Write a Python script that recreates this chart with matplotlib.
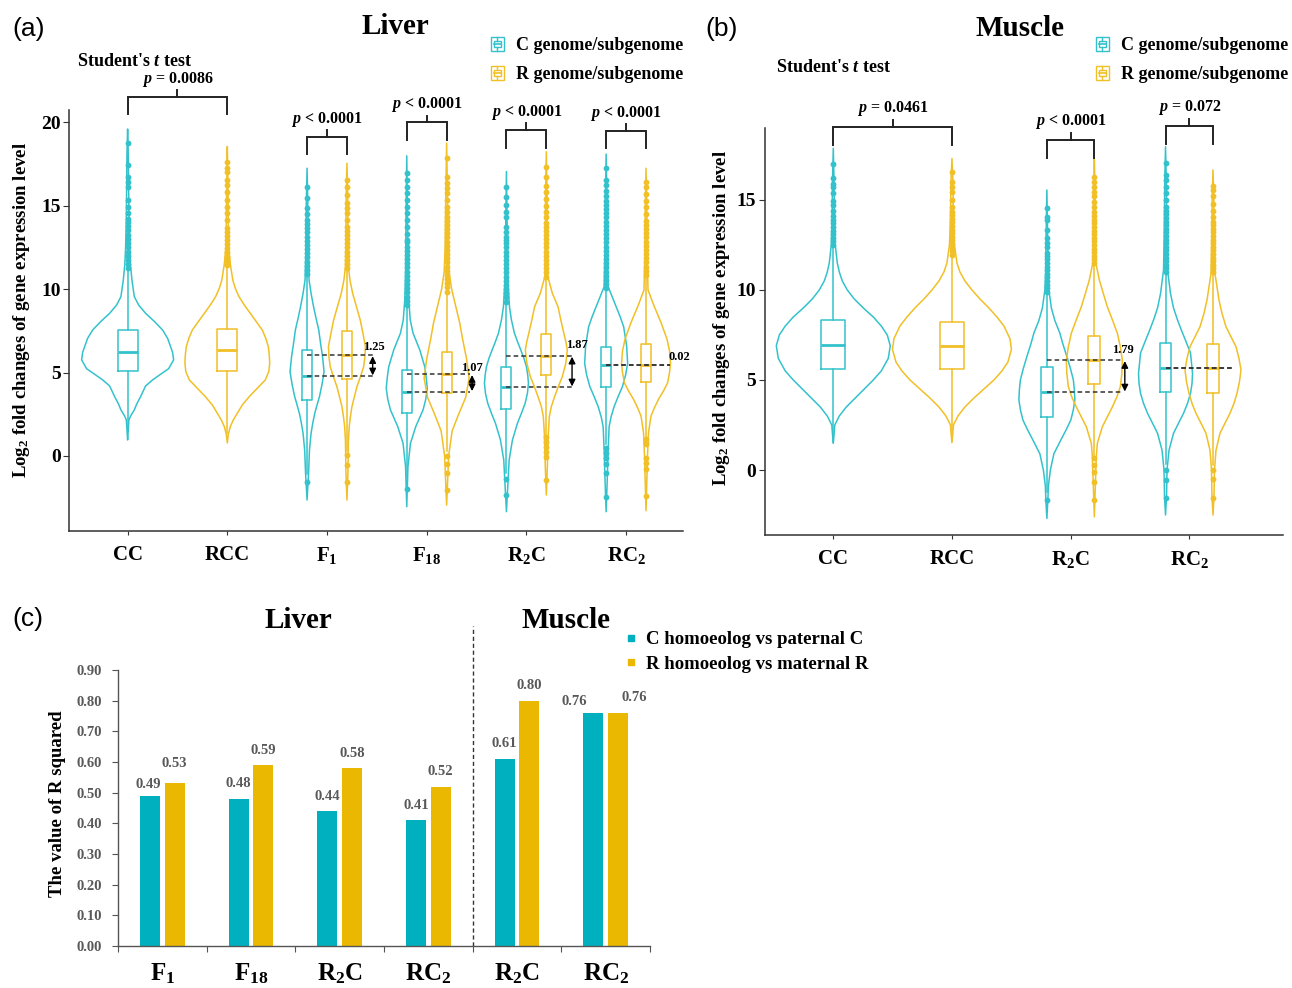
import numpy as np
import matplotlib
matplotlib.use('Agg')
import matplotlib.pyplot as plt
from matplotlib.patches import Rectangle, Patch
from matplotlib.lines import Line2D
from matplotlib.legend_handler import HandlerBase

plt.rcParams['font.family'] = 'Liberation Serif'
plt.rcParams['font.weight'] = 'bold'
plt.rcParams['mathtext.fontset'] = 'custom'
plt.rcParams['mathtext.rm'] = 'Liberation Serif:bold'
plt.rcParams['mathtext.bf'] = 'Liberation Serif:bold'
plt.rcParams['mathtext.it'] = 'Liberation Serif:italic'
plt.rcParams['mathtext.bfit'] = 'Liberation Serif:italic:bold'

# ------------------------------------------------------------------ data
# Panel (a) Liver -------------------------------------------------------
liver_groups = ['CC', 'RCC', r'$\mathbf{F_1}$', r'$\mathbf{F_{18}}$', r'$\mathbf{R_2C}$', r'$\mathbf{RC_2}$']
liver_v_group = [0, 1, 2, 2, 3, 3, 4, 4, 5, 5]
liver_v_genome = ['C', 'R', 'C', 'R', 'C', 'R', 'C', 'R', 'C', 'R']
liver_dens_y = [
    [0.96, 1.6, 2.16, 2.4, 2.76, 3.1, 3.56, 4.2, 4.56, 4.9, 5.23, 5.76, 6.2, 6.55, 7.05, 7.55, 8.05, 8.55, 9.05, 9.55, 10.55, 11.5, 12.5, 14.0, 16.0, 18.0, 19.6],
    [0.78, 1.3, 1.76, 2.16, 2.56, 3.06, 3.56, 4.06, 4.56, 5.06, 5.56, 6.05, 6.55, 7.05, 7.55, 8.05, 8.55, 9.05, 9.55, 10.05, 10.55, 11.5, 12.5, 14.0, 16.0, 18.55],
    [-2.64, -1.04, 0.36, 1.36, 2.0, 2.56, 3.06, 3.56, 4.3, 5.05, 5.95, 6.75, 7.55, 8.25, 8.95, 9.75, 10.55, 12.5, 15.0, 17.25],
    [-2.64, -1.0, 0.96, 1.76, 2.36, 2.96, 3.56, 4.15, 4.75, 5.35, 5.95, 6.55, 7.35, 8.15, 8.95, 9.75, 10.55, 11.35, 13.5, 15.5, 17.55],
    [-3.04, -0.64, 0.76, 1.76, 2.76, 3.4, 4.06, 4.7, 5.35, 6.36, 7.36, 8.15, 9.35, 11.0, 14.0, 17.99],
    [-2.94, -1.5, 0.0, 1.5, 2.5, 3.5, 4.66, 5.8, 7.0, 8.0, 9.0, 10.0, 11.0, 12.5, 15.0, 18.75],
    [-3.34, -1.64, -0.24, 0.96, 1.96, 2.56, 3.16, 3.76, 4.36, 4.85, 5.35, 5.85, 6.36, 6.86, 7.36, 8.15, 8.95, 10.55, 12.55, 17.05],
    [-2.34, -0.7, 1.36, 2.36, 2.96, 3.56, 4.16, 4.76, 5.56, 6.36, 6.86, 7.36, 8.15, 8.95, 9.75, 10.75, 13.0, 15.5, 18.24],
    [-3.34, -1.64, 0.36, 1.76, 2.36, 2.96, 3.56, 4.16, 4.86, 5.55, 6.6, 7.75, 8.35, 8.95, 9.55, 10.15, 12.5, 15.0, 18.1],
    [-3.28, 0.0, 1.4, 2.4, 2.9, 3.4, 3.9, 4.4, 5.0, 5.55, 6.3, 7.0, 8.0, 9.0, 9.95, 12.0, 14.5, 17.25],
]
liver_dens_w = [
    [0, 0.7, 1.3, 3, 6.7, 9, 13, 18, 25, 33, 41, 46, 45, 43, 40, 35, 27, 18, 11, 6.7, 4.3, 2.8, 2.0, 1.4, 1.0, 0.7, 0],
    [0, 1, 3, 6, 10, 15, 22, 30, 38, 41.5, 42.4, 42, 41, 38.5, 35, 29, 23, 17, 11.7, 8, 5.5, 3, 1.5, 1.0, 0.7, 0],
    [0, 1.5, 2.4, 4, 5.8, 7.7, 10, 12.4, 15, 17, 15.5, 13.5, 11.7, 9, 6.5, 4, 2, 1.2, 0.8, 0],
    [0, 1, 1.5, 2.3, 3.5, 5, 7.5, 10, 13.5, 16.7, 18, 18.5, 16, 13.3, 9.5, 5.7, 3, 1.5, 1, 0.8, 0],
    [0, 1.2, 3.7, 9, 16.3, 19, 20.5, 19.5, 18, 13, 6.3, 3.5, 2, 1.2, 0.8, 0],
    [0, 1, 2, 5.5, 12, 19, 22.5, 20, 16, 13, 9, 5, 2.5, 1.5, 1, 0],
    [0, 1.5, 2.7, 6, 11, 15, 18.7, 21, 22, 21.3, 20, 17.5, 14.3, 11, 8, 5, 3, 1.5, 1, 0],
    [0, 1, 2, 3, 5, 8.3, 12, 16, 19.5, 21, 19.5, 17.5, 14.5, 11.7, 6, 1.5, 1, 0.8, 0],
    [0, 1, 2, 3, 5, 8, 12, 16.3, 19.5, 21.5, 20.5, 17.5, 14, 10, 6, 2, 1.2, 0.8, 0],
    [0, 1.5, 2.5, 5, 8.5, 12.5, 17.5, 21.7, 23.5, 24.5, 23.5, 21, 15, 8, 2, 1.2, 0.8, 0],
]
liver_q1 = [5.11, 5.11, 3.36, 4.62, 2.56, 3.76, 2.80, 4.86, 4.16, 4.42]
liver_med = [6.22, 6.35, 4.78, 6.03, 3.84, 4.90, 4.12, 6.00, 5.45, 5.47]
liver_q3 = [7.55, 7.61, 6.35, 7.51, 5.16, 6.25, 5.35, 7.29, 6.51, 6.70]
liver_whislo = [1.5, 1.4, -1.1, 0.3, -1.3, 0.3, -1.0, 1.2, 0.7, 1.1]
liver_whishi = [11.2, 11.35, 10.8, 11.2, 9.0, 9.8, 9.2, 10.7, 9.95, 10.8]
liver_fliers = [
    [11.25, 11.5, 11.75, 12.0, 12.25, 12.5, 12.75, 13.0, 13.25, 13.55, 13.8, 14.0, 14.2, 14.55, 14.95, 15.35, 16.1, 16.45, 16.7, 17.45, 18.75],
    [11.45, 11.7, 11.95, 12.2, 12.45, 12.7, 12.95, 13.2, 13.45, 13.65, 14.15, 14.55, 14.95, 15.35, 15.85, 16.25, 16.55, 17.05, 17.25, 17.65],
    [10.9, 11.15, 11.4, 11.65, 11.9, 12.15, 12.4, 12.65, 12.9, 13.15, 13.4, 13.65, 13.9, 14.15, 14.5, 14.85, 15.45, 16.15, -1.54],
    [11.25, 11.5, 11.75, 12.0, 12.25, 12.5, 12.75, 13.0, 13.25, 13.5, 13.75, 14.15, 14.55, 14.85, 15.15, 15.65, 16.15, 16.55, 0.06, -0.54, -1.54],
    [9.05, 9.3, 9.55, 9.8, 10.05, 10.3, 10.55, 10.8, 11.05, 11.3, 11.55, 11.8, 12.05, 12.3, 12.55, 12.8, 12.95, 13.3, 13.7, 14.15, 14.55, 14.95, 15.35, 15.75, 16.15, 16.55, 16.95, -2.0],
    [9.85, 10.1, 10.35, 10.6, 10.85, 11.1, 11.35, 11.6, 11.85, 12.1, 12.35, 12.6, 12.85, 13.1, 13.35, 13.6, 13.85, 14.1, 14.35, 14.6, 14.95, 15.35, 15.75, 16.05, 16.35, 16.75, 17.85, 0.0, -0.5, -1.0, -2.04],
    [9.25, 9.5, 9.75, 10.0, 10.25, 10.5, 10.75, 11.0, 11.25, 11.5, 11.75, 12.0, 12.25, 12.5, 12.75, 12.95, 13.15, 13.45, 13.75, 14.35, 14.65, 15.05, 15.55, 16.15, -1.4, -2.34],
    [10.75, 11.0, 11.25, 11.5, 11.75, 12.0, 12.25, 12.5, 12.75, 13.0, 13.25, 13.5, 13.75, 13.95, 14.3, 14.6, 15.0, 15.4, 15.8, 16.2, 16.75, 17.3, 1.12, 0.86, 0.56, 0.26, -0.04, -1.44],
    [10.05, 10.3, 10.55, 10.8, 11.05, 11.3, 11.55, 11.8, 12.05, 12.3, 12.55, 12.8, 13.05, 13.3, 13.55, 13.8, 14.05, 14.3, 14.55, 14.8, 15.05, 15.3, 15.6, 15.9, 16.25, 16.55, 17.25, 0.5, 0.2, -0.1, -0.5, -1.0, -2.44],
    [10.85, 11.1, 11.35, 11.6, 11.85, 12.1, 12.35, 12.6, 12.85, 13.1, 13.35, 13.6, 13.85, 14.1, 14.5, 14.9, 15.3, 15.7, 16.1, 16.45, 1.0, 0.86, 0.72, -0.14, -0.44, -0.8, -2.4],
]
liver_pairs = [(0, 1), (2, 2), (3, 3), (4, 4), (5, 5)]
liver_p_op = ['=', '<', '<', '<', '<']
liver_p_val = ['0.0086', '0.0001', '0.0001', '0.0001', '0.0001']
liver_diff_groups = [2, 3, 4, 5]
liver_diff_labels = ['1.25', '1.07', '1.87', '0.02']

# Panel (b) Muscle ------------------------------------------------------
muscle_groups = ['CC', 'RCC', r'$\mathbf{R_2C}$', r'$\mathbf{RC_2}$']
muscle_v_group = [0, 1, 2, 2, 3, 3]
muscle_v_genome = ['C', 'R', 'C', 'R', 'C', 'R']
muscle_dens_y = [
    [1.48, 2.0, 2.5, 3.0, 3.5, 4.0, 4.5, 5.0, 5.5, 6.2, 6.9, 7.5, 8.0, 8.5, 9.0, 9.5, 10.0, 10.5, 11.0, 11.5, 12.5, 14.0, 16.0, 17.87],
    [1.52, 2.0, 2.5, 3.0, 3.5, 4.0, 4.5, 5.0, 5.5, 6.0, 6.7, 7.3, 8.0, 8.5, 9.0, 9.5, 10.0, 10.5, 11.0, 11.5, 12.5, 14.0, 16.0, 17.3],
    [-2.69, -1.67, -0.9, 0.0, 0.9, 1.67, 2.2, 2.78, 3.35, 3.9, 4.45, 5.0, 5.65, 6.3, 7.0, 7.6, 8.3, 9.0, 10.0, 11.0, 13.0, 15.55],
    [-2.6, -0.9, 0.74, 1.48, 2.4, 2.95, 3.5, 4.05, 4.63, 5.35, 6.1, 6.85, 7.6, 8.35, 9.07, 9.8, 10.56, 11.5, 13.5, 15.5, 17.3],
    [-2.5, -1.5, 0.0, 1.1, 2.04, 2.6, 3.15, 3.7, 4.26, 4.8, 5.37, 6.5, 7.2, 7.75, 8.33, 9.0, 9.8, 11.1, 13.5, 16.0, 17.96],
    [-2.5, -1.5, 0.0, 1.1, 2.04, 2.6, 3.15, 3.7, 4.26, 4.9, 5.56, 6.2, 6.85, 7.4, 7.96, 8.7, 9.44, 10.9, 13.0, 15.0, 16.67],
]
muscle_dens_w = [
    [0, 0.8, 1.5, 6, 13, 22, 31, 40, 48, 55, 57, 54, 48, 40, 30, 21, 14, 9, 6, 4, 2, 1.2, 0.8, 0],
    [0, 0.8, 1.5, 6, 13, 22, 32, 42, 50, 56, 59.5, 58, 52, 45, 37, 28, 20, 13, 8, 5, 2.5, 1.5, 1, 0],
    [0, 1, 1.5, 3.5, 7, 14, 19, 24, 26.5, 28, 27.5, 26.5, 23.5, 20, 16, 13, 8, 4.5, 2, 1.2, 0.8, 0],
    [0, 1, 2, 3, 8, 13, 18, 22.5, 26, 27.5, 28, 26, 23, 18, 13, 9, 5, 1.5, 1, 0.7, 0],
    [0, 1, 1.5, 3.5, 8, 13, 18, 22, 25, 26.5, 27, 25, 20, 16, 12, 8, 5, 2, 1.2, 0.8, 0],
    [0, 1, 1.5, 3, 7, 12, 17, 21, 24, 26.5, 28, 26, 23, 18, 13, 9, 6, 2, 1.2, 0.8, 0],
]
muscle_q1 = [5.61, 5.61, 2.93, 4.78, 4.35, 4.30]
muscle_med = [6.94, 6.87, 4.31, 6.10, 5.65, 5.65]
muscle_q3 = [8.33, 8.20, 5.70, 7.46, 7.04, 6.98]
muscle_whislo = [1.55, 1.6, -1.2, 0.8, 0.35, 0.3]
muscle_whishi = [12.4, 11.9, 9.8, 11.4, 10.9, 10.9]
muscle_fliers = [
    [12.5, 12.7, 12.9, 13.1, 13.3, 13.5, 13.7, 13.9, 14.1, 14.4, 14.7, 14.94, 15.4, 15.74, 15.9, 16.2, 16.98],
    [11.95, 12.15, 12.35, 12.55, 12.75, 12.95, 13.15, 13.35, 13.55, 13.75, 13.95, 14.15, 14.35, 14.63, 15.0, 15.46, 15.74, 16.02, 16.54],
    [9.9, 10.1, 10.3, 10.5, 10.7, 10.9, 11.1, 11.3, 11.5, 11.7, 11.9, 12.05, 12.4, 12.6, 12.87, 13.33, 13.9, 14.07, 14.54, -1.67],
    [11.5, 11.7, 11.9, 12.1, 12.3, 12.5, 12.7, 12.9, 13.1, 13.3, 13.5, 13.7, 13.9, 14.1, 14.35, 14.63, 14.9, 15.2, 15.46, 15.74, 16.0, 16.3, 0.65, 0.28, -0.09, -0.65, -1.67],
    [11.0, 11.2, 11.4, 11.6, 11.8, 12.0, 12.2, 12.4, 12.6, 12.8, 13.0, 13.2, 13.4, 13.6, 13.8, 14.0, 14.2, 14.4, 14.63, 15.0, 15.37, 15.74, 16.1, 16.39, 17.07, 0.0, -0.56, -1.57],
    [11.0, 11.2, 11.4, 11.6, 11.8, 12.0, 12.2, 12.4, 12.6, 12.8, 13.0, 13.2, 13.4, 13.6, 13.8, 14.07, 14.4, 14.8, 15.2, 15.55, 15.8, 0.0, -0.52, -1.57],
]
muscle_pairs = [(0, 1), (2, 2), (3, 3)]
muscle_p_op = ['=', '<', '=']
muscle_p_val = ['0.0461', '0.0001', '0.072']
muscle_diff_groups = [2, 3]
muscle_diff_labels = ['1.79', '']

# Panel (c) R squared ---------------------------------------------------
bar_categories = [r'$\mathbf{F_1}$', r'$\mathbf{F_{18}}$', r'$\mathbf{R_2C}$', r'$\mathbf{RC_2}$',
                  r'$\mathbf{R_2C}$', r'$\mathbf{RC_2}$']
bar_C = [0.49, 0.48, 0.44, 0.41, 0.61, 0.76]
bar_R = [0.53, 0.59, 0.58, 0.52, 0.80, 0.76]
bar_legend = ['C homoeolog vs paternal C', 'R homoeolog vs maternal R']
genome_legend = ['C genome/subgenome', 'R genome/subgenome']

# ------------------------------------------------------------------ style
W, H = 1292, 988
C_COL = '#33c2cc'
R_COL = '#f1bf26'
BAR_C = '#00b0be'
BAR_R = '#eab800'
COLS = {'C': C_COL, 'R': R_COL}
SPINE = '#333333'


def fx(px):
    return px / W


def fy(py):
    return 1 - py / H


fig = plt.figure(figsize=(W / 100, H / 100), dpi=100)


class BoxKey(HandlerBase):
    def create_artists(self, legend, orig_handle, xdescent, ydescent, width, height, fontsize, trans):
        c = orig_handle.get_edgecolor()
        x0, y0 = -xdescent, -ydescent
        arts = [Rectangle((x0, y0), width, height, fill=False, ec=c, lw=1.0, transform=trans),
                Rectangle((x0 + 0.2 * width, y0 + 0.3 * height), 0.6 * width, 0.4 * height, fill=False, ec=c, lw=1.0, transform=trans),
                Line2D([x0 + 0.2 * width, x0 + 0.8 * width], [y0 + 0.5 * height] * 2, color=c, lw=1.2, transform=trans),
                Line2D([x0 + 0.5 * width] * 2, [y0, y0 + 0.3 * height], color=c, lw=1.0, transform=trans),
                Line2D([x0 + 0.5 * width] * 2, [y0 + 0.7 * height, y0 + height], color=c, lw=1.0, transform=trans)]
        return arts


def violin_panel(ax, groups, v_group, v_genome, dens_y, dens_w, q1, med, q3, wlo, whi, fliers,
                 px_per_unit):
    counts = {g: v_group.count(g) for g in set(v_group)}
    positions = []
    for i, g in enumerate(v_group):
        if counts[g] == 1:
            pos = g
        else:
            pos = g - 0.2 if v_genome[i] == 'C' else g + 0.2
        positions.append(pos)
    for i, pos in enumerate(positions):
        col = COLS[v_genome[i]]
        ys = np.array(dens_y[i], float)
        ws = np.array(dens_w[i], float)
        st = [dict(coords=ys, vals=ws, mean=med[i], median=med[i], min=ys[0], max=ys[-1])]
        vp = ax.violin(st, positions=[pos], widths=[2 * ws.max() / px_per_unit],
                       showmeans=False, showextrema=False, showmedians=False)
        for b in vp['bodies']:
            b.set_facecolor('none')
            b.set_edgecolor(col)
            b.set_linewidth(1.1)
            b.set_alpha(1)
            b.set_zorder(1)
            b.set_joinstyle('round')
        bw = 0.2 if counts[v_group[i]] == 1 else 0.1
        bs = [dict(med=med[i], q1=q1[i], q3=q3[i], whislo=wlo[i], whishi=whi[i], fliers=fliers[i])]
        ax.bxp(bs, positions=[pos], widths=[bw], showcaps=False, showfliers=True, manage_ticks=False,
               boxprops=dict(color=col, lw=1.1), whiskerprops=dict(color=col, lw=1.1),
               medianprops=dict(color=col, lw=2.0),
               flierprops=dict(marker='o', markerfacecolor=col, markeredgecolor=col,
                               markersize=4.2, markeredgewidth=0, linestyle='none'),
               zorder=2)
    ax.set_xticks(range(len(groups)))
    ax.set_xticklabels(groups, fontsize=15, fontweight='bold')
    for s in ['top', 'right']:
        ax.spines[s].set_visible(False)
    for s in ['left', 'bottom']:
        ax.spines[s].set_color(SPINE)
        ax.spines[s].set_linewidth(1.1)
    ax.tick_params(axis='x', length=3, color=SPINE, pad=7)
    ax.tick_params(axis='y', length=4, color=SPINE, labelsize=14, pad=2)
    for lab in ax.get_yticklabels():
        lab.set_fontweight('bold')
    return positions


def pstring(op, val):
    return r'$\mathbfit{p}$ ' + op + ' ' + val


def brackets(ax, pairs, positions, v_group, ops, vals, levels, leg, tick, toff):
    for k, (ga, gb) in enumerate(pairs):
        xa = min(p for p, g in zip(positions, v_group) if g == ga)
        xb = max(p for p, g in zip(positions, v_group) if g == gb)
        y = levels[k]
        ax.plot([xa, xa, xb, xb], [y - leg, y, y, y - leg], color='#222222', lw=1.4, clip_on=False,
                solid_joinstyle='miter')
        xm = (xa + xb) / 2
        ax.plot([xm, xm], [y, y + tick], color='#222222', lw=1.4, clip_on=False)
        ax.text(xm, y + toff, pstring(ops[k], vals[k]), ha='center', va='center', fontsize=11.5,
                fontweight='bold', clip_on=False)


def diff_marks(ax, groups_idx, labels, positions, v_group, v_genome, med, x_end, lab_dx, lab_dy, arrow_dx):
    for k, g in enumerate(groups_idx):
        ic = [i for i in range(len(v_group)) if v_group[i] == g and v_genome[i] == 'C'][0]
        ir = [i for i in range(len(v_group)) if v_group[i] == g and v_genome[i] == 'R'][0]
        xc = positions[ic]
        for val in (med[ic], med[ir]):
            ax.plot([xc, g + x_end[k]], [val, val], color='#333333', lw=1.1, ls=(0, (3, 2)), zorder=3)
        hi, lo = max(med[ic], med[ir]), min(med[ic], med[ir])
        if hi - lo > 0.5:
            ax.annotate('', xy=(g + arrow_dx[k], lo + 0.05), xytext=(g + arrow_dx[k], hi - 0.05),
                        arrowprops=dict(arrowstyle='<|-|>', color='black', lw=1.0, mutation_scale=10,
                                        shrinkA=0, shrinkB=0), zorder=4)
        if labels[k]:
            ax.text(g + lab_dx[k], hi + lab_dy[k], labels[k], ha='center', va='center', fontsize=9,
                    fontweight='bold')


# ------------------------------------------------------------------ panel (a)
ax_a = fig.add_axes([fx(69), fy(530.7), fx(683) - fx(69), fy(110) - fy(530.7)])
pos_a = violin_panel(ax_a, liver_groups, liver_v_group, liver_v_genome, liver_dens_y, liver_dens_w,
                     liver_q1, liver_med, liver_q3, liver_whislo, liver_whishi, liver_fliers, 99.7)
ax_a.set_xlim(-0.588, 5.571)
ax_a.set_ylim(-4.48, 20.74)
ax_a.set_yticks([0, 5, 10, 15, 20])
brackets(ax_a, liver_pairs, pos_a, liver_v_group, liver_p_op, liver_p_val,
         [21.54, 19.14, 20.0, 19.54, 19.5], 1.05, 0.4, 1.05)
diff_marks(ax_a, liver_diff_groups, liver_diff_labels, pos_a, liver_v_group, liver_v_genome, liver_med,
           [0.464, 0.434, 0.454, 0.44], [0.474, 0.451, 0.505, 0.533], [0.48, 0.36, 0.64, 0.45],
           [0.458, 0.455, 0.458, 0.45])

# ------------------------------------------------------------------ panel (b)
ax_b = fig.add_axes([fx(764.7), fy(535), fx(1283) - fx(764.7), fy(128.3) - fy(535)])
pos_b = violin_panel(ax_b, muscle_groups, muscle_v_group, muscle_v_genome, muscle_dens_y, muscle_dens_w,
                     muscle_q1, muscle_med, muscle_q3, muscle_whislo, muscle_whishi, muscle_fliers, 118.7)
ax_b.set_xlim(-0.578, 3.79)
ax_b.set_ylim(-3.61, 18.98)
ax_b.set_yticks([0, 5, 10, 15])
brackets(ax_b, muscle_pairs, pos_b, muscle_v_group, muscle_p_op, muscle_p_val,
         [19.07, 18.33, 19.11], 1.0, 0.37, 1.0)
diff_marks(ax_b, muscle_diff_groups, muscle_diff_labels, pos_b, muscle_v_group, muscle_v_genome, muscle_med,
           [0.443, 0.356], [0.44, 0.0], [0.56, 0.0], [0.457, 0.0])

# legends (a)/(b)
for lx in (491, 1096):
    hs = [Patch(facecolor='none', edgecolor=C_COL), Patch(facecolor='none', edgecolor=R_COL)]
    fig.legend(hs, genome_legend, handler_map={Patch: BoxKey()}, loc='upper left',
               bbox_to_anchor=(fx(lx), fy(37)), frameon=False, borderpad=0, borderaxespad=0,
               handlelength=0.7, handleheight=0.85, handletextpad=0.7, labelspacing=0.62,
               prop=dict(family='Liberation Serif', weight='bold', size=13))

# titles and labels for (a)/(b)
fig.text(fx(395), fy(27), 'Liver', ha='center', va='center', fontsize=21, fontweight='bold')
fig.text(fx(1020), fy(29), 'Muscle', ha='center', va='center', fontsize=21, fontweight='bold')
fig.text(fx(77), fy(62), r"Student's $\mathbfit{t}$ test", ha='left', va='center', fontsize=13,
         fontweight='bold')
fig.text(fx(775.5), fy(67), r"Student's $\mathbfit{t}$ test", ha='left', va='center', fontsize=13,
         fontweight='bold')
ylab = r'$\mathbf{Log_2}$ fold changes of gene expression level'
fig.text(fx(22), fy(310), ylab, rotation=90, ha='center', va='center', fontsize=13.5, fontweight='bold')
fig.text(fx(721), fy(318), ylab, rotation=90, ha='center', va='center', fontsize=13.5, fontweight='bold')
for lbl, px, py in [('(a)', 12, 29), ('(b)', 705, 29), ('(c)', 12, 619)]:
    fig.text(fx(px), fy(py), lbl, ha='left', va='center', fontsize=19, fontweight='normal',
             family='Liberation Sans')

# ------------------------------------------------------------------ panel (c)
ax_c = fig.add_axes([fx(118), fy(946), fx(650) - fx(118), fy(670) - fy(946)])
xc = np.arange(len(bar_categories))
ax_c.bar(xc - 0.14, bar_C, 0.225, color=BAR_C, zorder=2)
ax_c.bar(xc + 0.14, bar_R, 0.225, color=BAR_R, zorder=2)
ax_c.set_xlim(-0.5, len(bar_categories) - 0.5)
ax_c.set_ylim(0, 0.9)
ax_c.set_yticks(np.arange(0, 0.91, 0.1))
ax_c.set_yticklabels([f'{v:.2f}' for v in np.arange(0, 0.91, 0.1)], fontsize=10.5, fontweight='bold',
                     color='#595959')
ax_c.set_xticks(np.arange(-0.5, len(bar_categories)), labels=[''] * (len(bar_categories) + 1))
ax_c.set_xticks(xc, minor=True)
ax_c.set_xticklabels(bar_categories, minor=True, fontsize=18, fontweight='bold')
ax_c.tick_params(axis='x', which='minor', length=0, pad=11)
ax_c.tick_params(axis='x', which='major', length=4, color='#555555')
ax_c.tick_params(axis='y', length=4, color='#555555', pad=7.5)
for s in ['top', 'right']:
    ax_c.spines[s].set_visible(False)
for s in ['left', 'bottom']:
    ax_c.spines[s].set_color('#555555')
    ax_c.spines[s].set_linewidth(1.0)
ax_c.plot([3.5, 3.5], [0, 1.045], color='#333333', lw=1.0, ls=(0, (3, 2)), clip_on=False)

c_off = [(-2, 11.6), (0, 15), (0, 15), (0, 15), (0, 15), (-19.5, 11.7)]
r_off = [(0, 20), (0, 15), (0, 15), (0, 15), (0, 15.5), (16.5, 15)]
for i in range(len(bar_categories)):
    ax_c.annotate(f'{bar_C[i]:.2f}', (xc[i] - 0.14, bar_C[i]), xytext=c_off[i], textcoords='offset pixels',
                  ha='center', va='center', fontsize=10.5, fontweight='bold', color='#595959')
    ax_c.annotate(f'{bar_R[i]:.2f}', (xc[i] + 0.14, bar_R[i]), xytext=r_off[i], textcoords='offset pixels',
                  ha='center', va='center', fontsize=10.5, fontweight='bold', color='#595959')

fig.text(fx(58), fy(804), 'The value of R squared', rotation=90, ha='center', va='center', fontsize=13.5,
         fontweight='bold')
fig.text(fx(298), fy(621), 'Liver', ha='center', va='center', fontsize=21, fontweight='bold')
fig.text(fx(566), fy(620), 'Muscle', ha='center', va='center', fontsize=21, fontweight='bold')
hs_c = [Line2D([], [], ls='', marker='s', markersize=5, color=BAR_C),
        Line2D([], [], ls='', marker='s', markersize=5, color=BAR_R)]
fig.legend(hs_c, bar_legend, loc='upper left', bbox_to_anchor=(fx(622), fy(631)), frameon=False,
           borderpad=0, borderaxespad=0, handlelength=1.0, handletextpad=0.3, labelspacing=0.4,
           prop=dict(family='Liberation Serif', weight='bold', size=13.5))

fig.savefig('out.png', dpi=100)
